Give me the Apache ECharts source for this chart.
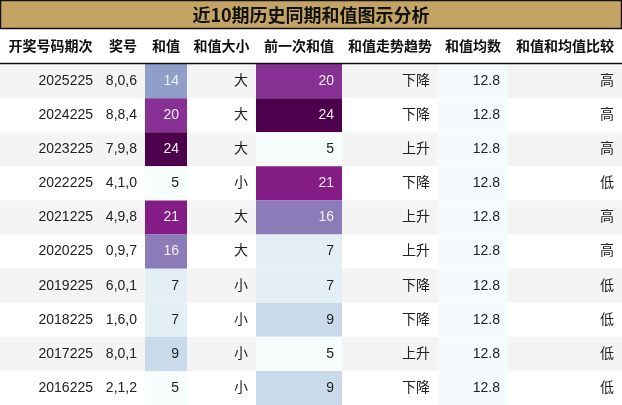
<!DOCTYPE html>
<html><head><meta charset="utf-8">
<script src="https://cdn.jsdelivr.net/npm/echarts@6/dist/echarts.min.js"></script>
<style>html,body{margin:0;padding:0;background:#fff}#c{width:622px;height:405px}</style>
</head><body><div id="c"></div>
<script>
const title = '近10期历史同期和值图示分析';
const headers = ['开奖号码期次','奖号','和值','和值大小','前一次和值','和值走势趋势','和值均数','和值和均值比较'];
const periods = ['2025225','2024225','2023225','2022225','2021225','2020225','2019225','2018225','2017225','2016225'];
const numbers = ['8,0,6','8,8,4','7,9,8','4,1,0','4,9,8','0,9,7','6,0,1','1,6,0','8,0,1','2,1,2'];
const sums = [14,20,24,5,21,16,7,7,9,5];
const sizes = ['大','大','大','小','大','大','小','小','小','小'];
const prevSums = [20,24,5,21,16,7,7,9,5,9];
const trends = ['下降','下降','上升','下降','上升','上升','下降','下降','上升','下降'];
const means = ['12.8','12.8','12.8','12.8','12.8','12.8','12.8','12.8','12.8','12.8'];
const compare = ['高','高','高','低','高','高','低','低','低','低'];

// layout
const colEdges = [0,101,145,187,256,342,438,508,622];
const ramp = ['#f7fcfd','#e0ecf4','#bfd3e6','#9ebcda','#8c96c6','#8c6bb1','#88419d','#810f7c','#4d004b'];
const vMin = 5, vMax = 24;
function hex(c){return [1,3,5].map(i=>parseInt(c.substr(i,2),16));}
function colorFor(v){
  const t = Math.max(0,Math.min(1,(v-vMin)/(vMax-vMin)))*(ramp.length-1);
  const i = Math.min(Math.floor(t), ramp.length-2), f = t-i;
  const a = hex(ramp[i]), b = hex(ramp[i+1]);
  return 'rgb('+a.map((x,k)=>Math.round(x+(b[k]-x)*f)).join(',')+')';
}
const cells = [];
headers.forEach((h,c)=>cells.push([c,0,h,'#ffffff','#111','header']));
periods.forEach((p,r)=>{
  const bg = r%2===0 ? '#f4f4f4' : '#ffffff';
  const row = r+1;
  const cols = [periods[r],numbers[r],sums[r],sizes[r],prevSums[r],trends[r],means[r],compare[r]];
  cols.forEach((v,c)=>{
    let b = bg, tc = '#222';
    if (c===2||c===4){ b = colorFor(v); if (v>=14) tc = '#f0f0f0'; }
    if (c===6) b = '#f5fbfc';
    cells.push([c,row,String(v),b,tc,'body']);
  });
});
const chart = echarts.init(document.getElementById('c'));
chart.setOption({
  animation:false,
  grid:{left:0,right:0,top:30,bottom:0},
  xAxis:{type:'value',min:0,max:622,show:false},
  yAxis:{type:'value',min:0,max:11,inverse:true,show:false},
  graphic:[
    {type:'rect',shape:{x:0.5,y:0.5,width:621,height:28},style:{fill:'#c4a464',stroke:'#111',lineWidth:1.5}},
    {type:'text',x:311,y:15,style:{text:title,fill:'#111',font:'bold 18px "Noto Sans CJK SC"',align:'center',verticalAlign:'middle'}},
    {type:'line',shape:{x1:0,y1:63.5,x2:622,y2:63.5},style:{stroke:'#111',lineWidth:1.5},z:100}
  ],
  series:[{
    type:'custom',
    data:cells,
    renderItem:function(params,api){
      const c = api.value(0), r = api.value(1);
      const d = cells[params.dataIndex];
      const p0 = api.coord([colEdges[c], r]);
      const p1 = api.coord([colEdges[c+1], r+1]);
      const isH = d[5]==='header';
      return {type:'group',children:[
        {type:'rect',shape:{x:p0[0],y:p0[1],width:p1[0]-p0[0],height:p1[1]-p0[1]},style:{fill:d[3]}},
        {type:'text',x:isH?(p0[0]+p1[0])/2:p1[0]-8,y:(p0[1]+p1[1])/2,
          style:{text:d[2],fill:d[4],align:isH?'center':'right',verticalAlign:'middle',
          font:(isH?'bold 14px ':'14px ')+'"Liberation Sans","Noto Sans CJK SC",sans-serif'}}
      ]};
    }
  }]
});
</script></body></html>
